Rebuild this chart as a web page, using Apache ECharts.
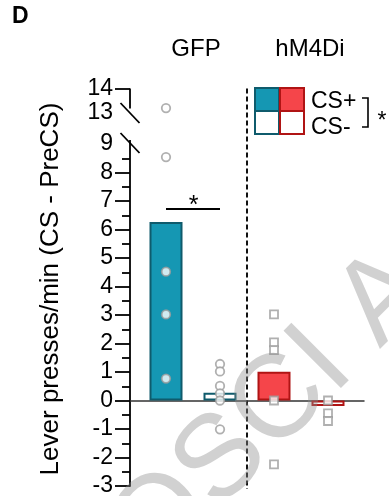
<!DOCTYPE html>
<html>
<head>
<meta charset="utf-8">
<script src="https://cdn.jsdelivr.net/npm/echarts@6/dist/echarts.min.js"></script>
<style>
html,body{margin:0;padding:0;background:#fff;}
#chart{width:389px;height:496px;}
</style>
</head>
<body>
<div id="chart"></div>
<script>
// ---- data ----
const categories = ['GFP CS+', 'GFP CS-', 'hM4Di CS+', 'hM4Di CS-'];
const groups = ['GFP', 'hM4Di'];
const barMeans = [6.26, 0.27, 1.01, -0.19];
const gfpCsPlusPts = [13.2, 8.54, 4.52, 3.02, 0.77];
const gfpCsMinusPts = [1.28, 1.02, 0.51, 0.25, 0, -1.01];
const hm4diCsPlusPts = [3.02, 2.04, 1.77, 0, -2.24];
const hm4diCsMinusPts = [0, -0.45, -0.72];
const lowerTickLabels = [-3, -2, -1, 0, 1, 2, 3, 4, 5, 6, 7, 8, 9];
const upperTickLabels = [13, 14];
const breakLow = 9, breakHigh = 13;
const sigGfpLevel = 6.72;

const TEAL = '#1597b3', TEAL_D = '#0f5b6c';
const RED = '#f5454a', RED_D = '#b01414';
const PT = '#9c9c9c';
const FONT = 'Liberation Sans, Arial, Helvetica, sans-serif';

const barColors = [
  {color: TEAL, borderColor: TEAL_D},
  {color: '#ffffff', borderColor: TEAL_D},
  {color: RED, borderColor: RED_D},
  {color: '#ffffff', borderColor: RED_D}
];
const pointSets = [gfpCsPlusPts, gfpCsMinusPts, hm4diCsPlusPts, hm4diCsMinusPts];
const pointSymbols = ['circle', 'circle', 'rect', 'rect'];

const xMin = 1 / 3, xMax = categories.length + 2 / 3;

const chart = echarts.init(document.getElementById('chart'), null, {renderer: 'canvas'});

const lowerSeries = [];
const upperSeries = [];
pointSets.forEach((pts, i) => {
  const low = pts.filter(v => v <= breakLow).map(v => [i + 1, v]);
  const high = pts.filter(v => v >= breakHigh).map(v => [i + 1, v]);
  const style = {color: '#ffffff', borderColor: PT, borderWidth: 1.8};
  lowerSeries.push({type: 'scatter', xAxisIndex: 0, yAxisIndex: 0, symbol: pointSymbols[i],
    symbolSize: pointSymbols[i] === 'rect' ? 8 : 8.5, itemStyle: style, z: 5, data: low});
  if (high.length) upperSeries.push({type: 'scatter', xAxisIndex: 1, yAxisIndex: 1, symbol: pointSymbols[i],
    symbolSize: 8.5, itemStyle: style, z: 5, data: high});
});

const yLabelStyle = {fontSize: 23, color: '#000', fontFamily: FONT, margin: 17};

chart.setOption({
  animation: false,
  grid: [
    {left: 130, width: 234, top: 144, height: 342, outerBoundsMode: 'none', containLabel: false},
    {left: 130, width: 234, top: 88.5, height: 24.5, outerBoundsMode: 'none', containLabel: false}
  ],
  xAxis: [
    {gridIndex: 0, type: 'value', min: xMin, max: xMax,
      axisLine: {show: true, onZero: true, lineStyle: {color: '#333', width: 1.5}},
      axisTick: {show: false}, axisLabel: {show: false}, splitLine: {show: false}},
    {gridIndex: 1, type: 'value', min: xMin, max: xMax, show: false,
      axisLine: {show: false}, axisTick: {show: false}, axisLabel: {show: false}, splitLine: {show: false}}
  ],
  yAxis: [
    {gridIndex: 0, type: 'value', min: -3, max: breakLow, interval: 1,
      axisLine: {show: true, onZero: false, lineStyle: {color: '#000', width: 1.8}},
      axisTick: {show: true, inside: false, length: 15, lineStyle: {color: '#000', width: 1.8},
        customValues: lowerTickLabels.filter(v => v < breakLow)},
      minorTick: {show: true, splitNumber: 2, length: 8, lineStyle: {color: '#000', width: 1.8}},
      axisLabel: Object.assign({customValues: lowerTickLabels}, yLabelStyle),
      splitLine: {show: false}},
    {gridIndex: 1, type: 'value', min: breakHigh, max: 14, interval: 1,
      axisLine: {show: false},
      axisTick: {show: true, inside: false, length: 15, lineStyle: {color: '#000', width: 1.8},
        customValues: [14]},
      axisLabel: Object.assign({customValues: upperTickLabels}, yLabelStyle),
      splitLine: {show: false}}
  ],
  series: [
    {type: 'bar', xAxisIndex: 0, yAxisIndex: 0, barWidth: 33, z: 3,
      data: barMeans.map((v, i) => ({value: [i + 1, v],
        itemStyle: {color: barColors[i].color, borderColor: barColors[i].borderColor, borderWidth: 2}}))}
  ].concat(lowerSeries, upperSeries)
});

// decorations positioned through the axes
const P = (g, x, y) => chart.convertToPixel({gridIndex: g}, [x, y]);
const p14 = P(1, xMin, 14), p13 = P(1, xMin, breakHigh), p9 = P(0, xMin, breakLow), pBot = P(0, xMin, -3);
const ax = p9[0];
const dashX = P(0, 2.5, 0)[0];
const sigA = P(0, 1, sigGfpLevel), sigB = P(0, 2, sigGfpLevel);
const lineStyle = {stroke: '#000', lineWidth: 1.8};

chart.setOption({
  graphic: [
    {type: 'text', left: 12, top: 5, style: {text: 'D', font: 'bold 23px ' + FONT, fill: '#000'}},
    {type: 'text', x: 196, y: 49, style: {text: groups[0], font: '24px ' + FONT, fill: '#000', align: 'center', verticalAlign: 'middle'}},
    {type: 'text', x: 310, y: 49, style: {text: groups[1], font: '24px ' + FONT, fill: '#000', align: 'center', verticalAlign: 'middle'}},
    {type: 'text', x: 51, y: 289, rotation: Math.PI / 2,
      style: {text: 'Lever presses/min (CS - PreCS)', font: '26px ' + FONT, fill: '#000', align: 'center', verticalAlign: 'middle'}},
    // axis break
    {type: 'line', shape: {x1: ax, y1: p14[1], x2: ax, y2: p14[1] + 20}, style: lineStyle},
    {type: 'line', shape: {x1: ax, y1: p9[1] - 4, x2: ax, y2: p9[1]}, style: lineStyle},
    {type: 'line', shape: {x1: ax - 9.5, y1: p13[1] - 10, x2: ax + 9.5, y2: p13[1] + 10}, style: lineStyle},
    {type: 'line', shape: {x1: ax - 9.5, y1: p9[1] - 11, x2: ax + 9.5, y2: p9[1] + 9}, style: lineStyle},
    // dashed separator
    {type: 'line', shape: {x1: dashX, y1: p14[1], x2: dashX, y2: pBot[1] + 3},
      style: {stroke: '#111', lineWidth: 2, lineDash: [5, 3]}},
    // significance GFP
    {type: 'line', shape: {x1: sigA[0], y1: sigA[1], x2: sigB[0], y2: sigB[1]}, style: lineStyle},
    {type: 'text', x: (sigA[0] + sigB[0]) / 2 + 0.5, y: sigA[1] - 3,
      style: {text: '*', font: '25px ' + FONT, fill: '#000', align: 'center', verticalAlign: 'middle'}},
    // legend
    {type: 'rect', shape: {x: 255, y: 88, width: 24, height: 23}, style: {fill: TEAL, stroke: TEAL_D, lineWidth: 2}},
    {type: 'rect', shape: {x: 280, y: 88, width: 24, height: 23}, style: {fill: RED, stroke: RED_D, lineWidth: 2}},
    {type: 'rect', shape: {x: 255, y: 111, width: 24, height: 23}, style: {fill: '#fff', stroke: TEAL_D, lineWidth: 2}},
    {type: 'rect', shape: {x: 280, y: 111, width: 24, height: 23}, style: {fill: '#fff', stroke: RED_D, lineWidth: 2}},
    {type: 'text', x: 311, y: 102, style: {text: 'CS+', font: '23px ' + FONT, fill: '#000', verticalAlign: 'middle'}},
    {type: 'text', x: 311, y: 128, style: {text: 'CS-', font: '23px ' + FONT, fill: '#000', verticalAlign: 'middle'}},
    {type: 'polyline', shape: {points: [[362, 98], [368, 98], [368, 127], [362, 127]]}, style: {stroke: '#000', lineWidth: 1.6, fill: null}},
    {type: 'text', x: 382, y: 122, style: {text: '*', font: '23px ' + FONT, fill: '#000', align: 'center', verticalAlign: 'middle'}},
    // watermark
    {type: 'text', x: 301, y: 382, rotation: Math.PI / 4, z: 100,
      style: {text: 'OSCI AC', font: '118px ' + FONT, fill: 'rgba(140,140,140,0.4)', align: 'center', verticalAlign: 'middle'}}
  ]
});
</script>
</body>
</html>
